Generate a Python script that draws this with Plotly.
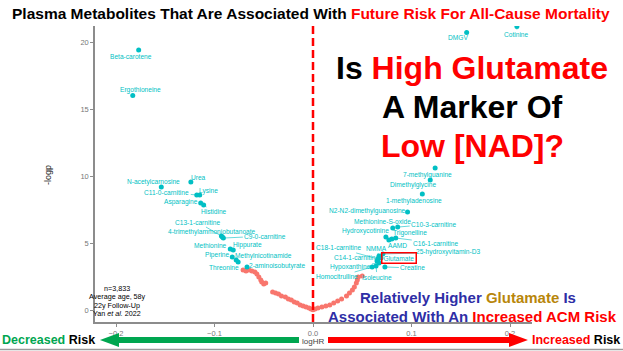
import plotly.graph_objects as go

# ---------------- data ----------------
sig_names = ["Beta-carotene", "Ergothioneine", "Urea", "N-acetylcarnosine", "C11-0-carnitine",
             "Lysine", "Asparagine", "Histidine", "C13-1-carnitine", "4-trimethylammoniobutanoate",
             "C9-0-carnitine", "Methionine", "Hippurate", "Piperine", "Methylnicotinamide",
             "Threonine", "2-aminoisobutyrate",
             "DMGV", "Cotinine", "7-methylguanine", "Dimethylglycine", "1-methyladenosine",
             "N2-N2-dimethylguanosine", "C10-3-carnitine", "Methionine-S-oxide", "Hydroxycotinine",
             "Trigonelline", "C16-1-carnitine", "AAMD", "25-hydroxyvitamin-D3", "NMMA", "Glutamate",
             "C18-1-carnitine", "C14-1-carnitine", "Hypoxanthine", "Creatine", "Homocitrulline",
             "Isoleucine"]
sig_loghr = [-0.177, -0.183, -0.124, -0.154, -0.118,
             -0.115, -0.114, -0.111, -0.093, -0.092,
             -0.091, -0.084, -0.081, -0.082, -0.078,
             -0.076, -0.067,
             0.156, 0.207, 0.124, 0.119, 0.111,
             0.096, 0.086, 0.081, 0.074,
             0.080, 0.084, 0.077, 0.071, 0.067, 0.069,
             0.066, 0.065, 0.067, 0.073, 0.060,
             0.064]
sig_logp = [19.4, 16.0, 9.55, 9.18, 8.58,
            8.58, 7.99, 7.84, 5.52, 5.45,
            5.37, 4.55, 4.48, 3.96, 3.73,
            3.58, 3.21,
            20.7, 21.15, 10.6, 9.7, 8.66,
            7.31, 6.19, 6.12, 5.45,
            5.30, 5.37, 5.22, 4.18, 4.03, 3.88,
            3.81, 3.66, 3.51, 3.21, 3.21,
            3.28]

ns_loghr = [-0.071, -0.068, -0.065, -0.062, -0.059, -0.057, -0.055, -0.053, -0.052, -0.050,
            -0.048, -0.041, -0.038, -0.035, -0.032, -0.028, -0.025, -0.022, -0.019, -0.016,
            -0.013, -0.010, -0.007, -0.004, -0.002, 0.000,
            0.002, 0.005, 0.009, 0.013, 0.017, 0.021, 0.025, 0.029, 0.034, 0.037,
            0.040, 0.042, 0.044, 0.045, 0.046, 0.050]
ns_logp = [2.99, 2.91, 2.99, 2.91, 2.84, 2.69, 2.46, 2.24, 2.09, 1.94,
           2.01, 1.34, 1.27, 1.19, 1.04, 0.97, 0.82, 0.75, 0.60, 0.52,
           0.37, 0.30, 0.22, 0.15, 0.07, 0.02,
           0.07, 0.15, 0.22, 0.30, 0.37, 0.52, 0.67, 0.82, 1.04, 1.27,
           1.49, 1.72, 2.01, 2.24, 2.46, 2.54]

x_ticks = [-0.2, -0.1, 0.0, 0.1, 0.2]
x_tick_labels = ["\u22120.2", "\u22120.1", "0.0", "0.1", "0.2"]
y_ticks = [0, 5, 10, 15, 20]
y_tick_labels = ["0", "5", "10", "15", "20"]
study_notes = ["n=3,833", "Average age, 58y", "22y Follow-Up", "Yan <i>et al.</i> 2022"]

# ---------------- layout helpers ----------------
W, H = 623, 351
L, R, T, B = 95, 532, 26, 322
x0_px, x_scale = 313, 985.0
y0_px, y_scale = 310, 13.4
xr = [(L - x0_px) / x_scale, (R - x0_px) / x_scale]
yr = [(y0_px - B) / y_scale, (y0_px - T) / y_scale]


def px(v):
    return (v - L) / (R - L)


def py(v):
    return (B - v) / (B - T)


TEAL = "#00BFC4"
SALMON = "#F8766D"
RED = "#FF0000"
BLUE = "#2E2EA6"
GREEN = "#00A650"
SANS = "Liberation Sans, Arial, sans-serif"

# label offsets (px) of each label centre from its point
label_offsets = {
    "Beta-carotene": (-8, 6), "Ergothioneine": (8, -6), "Urea": (8, -5),
    "N-acetylcarnosine": (-8, -5), "C11-0-carnitine": (-30, -3), "Lysine": (9, -4),
    "Asparagine": (-20, -1), "Histidine": (10, 7), "C13-1-carnitine": (-24, -14),
    "4-trimethylammoniobutanoate": (-10, -5), "C9-0-carnitine": (42, -2),
    "Methionine": (-20, -4), "Hippurate": (14, -5), "Piperine": (-15, -2),
    "Methylnicotinamide": (27, -4), "Threonine": (-14, 5), "2-aminoisobutyrate": (30, -1),
    "DMGV": (-9, 5), "Cotinine": (0, 8), "7-methylguanine": (-8, 7),
    "Dimethylglycine": (-17, 5), "1-methyladenosine": (-8, 7),
    "N2-N2-dimethylguanosine": (-40, -1), "C10-3-carnitine": (36, -3),
    "Methionine-S-oxide": (-10, -6), "Hydroxycotinine": (-20, -6),
    "Trigonelline": (18, -6), "C16-1-carnitine": (40, 5), "AAMD": (9, 5),
    "25-hydroxyvitamin-D3": (65, -2), "NMMA": (-3, -8), "Glutamate": (18, 0),
    "C18-1-carnitine": (-40, -11), "C14-1-carnitine": (-21, -3),
    "Hypoxanthine": (-29, 4), "Creatine": (28, 1), "Homocitrulline": (-35, 10),
    "Isoleucine": (1, 11),
}

fig = go.Figure()
fig.add_trace(go.Scatter(x=ns_loghr, y=ns_logp, mode="markers",
                         marker=dict(color=SALMON, size=5), hoverinfo="skip"))
fig.add_trace(go.Scatter(x=sig_loghr, y=sig_logp, mode="markers",
                         marker=dict(color=TEAL, size=5), hoverinfo="skip"))

annotations = []
for n, xv, yv in zip(sig_names, sig_loghr, sig_logp):
    dx, dy = label_offsets[n]
    a = dict(x=xv, y=yv, xref="x", yref="y", text=n, showarrow=True, ax=dx, ay=dy,
             arrowhead=0, arrowwidth=0.6, arrowcolor=TEAL, standoff=0,
             font=dict(family=SANS, size=6.6, color=TEAL))
    if n == "Glutamate":
        a.update(bordercolor=RED, borderwidth=1.5, borderpad=1)
    annotations.append(a)


def txt(xp, yp, text, size, color="black", xanchor="center", angle=0):
    return dict(x=px(xp), y=py(yp), xref="paper", yref="paper", showarrow=False,
                xanchor=xanchor, yanchor="middle", text=text, textangle=angle,
                font=dict(family=SANS, size=size, color=color))


# title
annotations.append(txt(311, 13, "<b>Plasma Metabolites That Are Associated With "
                               "<span style='color:#FF0000'>Future Risk For All-Cause Mortality</span></b>",
                       15.5))
# big question
annotations.append(txt(472, 68, "<b>Is <span style='color:#FF0000'>High Glutamate</span></b>", 32))
annotations.append(txt(472, 107, "<b>A Marker Of</b>", 32))
annotations.append(txt(472, 146, "<b><span style='color:#FF0000'>Low [NAD]?</span></b>", 32))
# conclusion
annotations.append(txt(468, 297, "<b>Relatively Higher <span style='color:#B8860B'>Glutamate</span> Is</b>",
                       15, BLUE))
annotations.append(txt(472, 316, "<b>Associated With An <span style='color:#FF0000'>Increased ACM Risk</span></b>",
                       15, BLUE))
# study notes
for i, s in enumerate(study_notes):
    annotations.append(txt(117, 288.5 + 8.4 * i, s, 7.2))
# axis titles
annotations.append(txt(48, 175, "-logp", 9, "#222", angle=-90))
annotations.append(txt(313, 341, "logHR", 8, "#444"))
# risk labels
annotations.append(txt(97, 340, "<b><span style='color:#00A650'>Decreased</span> Risk</b>", 12.5,
                       xanchor="right"))
annotations.append(txt(530, 340, "<b><span style='color:#FF0000'>Increased</span> Risk</b>", 12.5,
                       xanchor="left"))


def poly(pts):
    return "M " + " L ".join(f"{px(a):.4f},{py(b):.4f}" for a, b in pts) + " Z"


shapes = [
    dict(type="line", xref="x", yref="paper", x0=0, x1=0, y0=0, y1=1.0,
         line=dict(color=RED, width=2.5, dash="8px,4px")),
    dict(type="path", xref="paper", yref="paper", fillcolor=GREEN, line=dict(width=0),
         path=poly([(299, 337), (119, 337), (119, 333), (100, 340), (119, 347), (119, 343), (299, 343)])),
    dict(type="path", xref="paper", yref="paper", fillcolor=RED, line=dict(width=0),
         path=poly([(328, 337), (509, 337), (509, 333), (528, 340), (509, 347), (509, 343), (328, 343)])),
    dict(type="line", xref="paper", yref="paper", x0=px(0), x1=px(623), y0=py(349.5), y1=py(349.5),
         line=dict(color="#9a9a9a", width=1.5)),
]

fig.update_layout(
    width=W, height=H, margin=dict(l=L, r=W - R, t=T, b=H - B),
    paper_bgcolor="white", plot_bgcolor="white", showlegend=False,
    annotations=annotations, shapes=shapes,
    xaxis=dict(range=xr, tickvals=x_ticks, ticktext=x_tick_labels, showgrid=False, zeroline=False,
               showline=True, linecolor="#8c8c8c", linewidth=1.5, ticks="outside", ticklen=3,
               tickcolor="#8c8c8c", tickfont=dict(family=SANS, size=7.5, color="#777")),
    yaxis=dict(range=yr, tickvals=y_ticks, ticktext=y_tick_labels, showgrid=False, zeroline=False,
               showline=True, linecolor="#8c8c8c", linewidth=1.5, ticks="outside", ticklen=3,
               tickcolor="#8c8c8c", tickfont=dict(family=SANS, size=7.5, color="#777")),
)

fig.write_html("out.html")
